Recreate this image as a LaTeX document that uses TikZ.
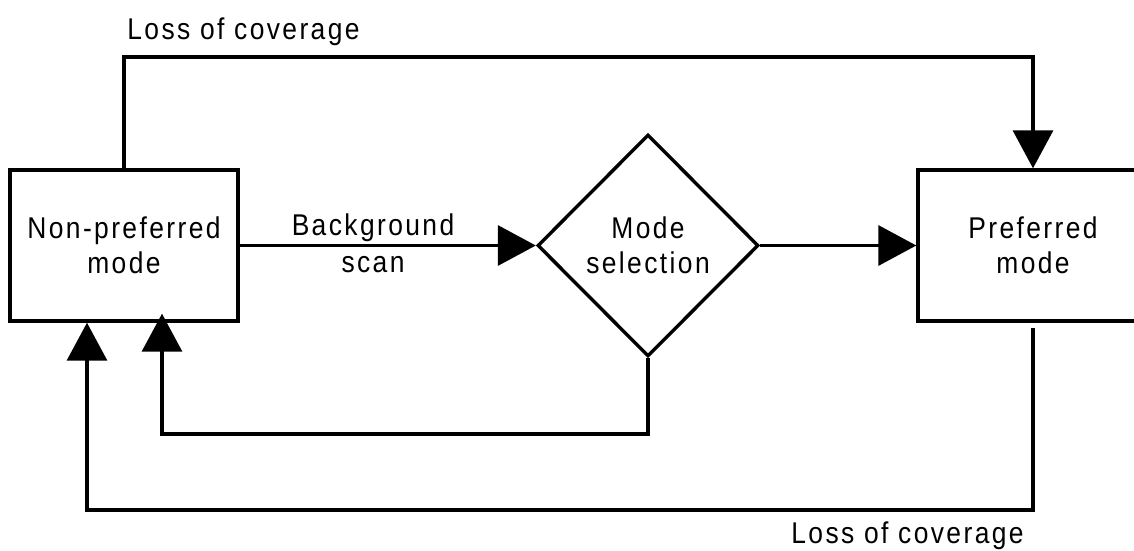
\documentclass[tikz,border=0pt]{standalone}
\usepackage{fontspec}
\setmainfont{Liberation Sans}[LetterSpace=8,FakeStretch=0.88]
\usetikzlibrary{arrows.meta,shapes.geometric}
\begin{document}
\begin{tikzpicture}[x=1pt,y=-1pt,
  every node/.style={font=\fontsize{30}{35}\selectfont, align=center, inner sep=0pt},
  blk/.style={draw, line width=3.4pt, rectangle},
  dec/.style={draw, line width=3.4pt, diamond, aspect=1},
  conn/.style={line width=3.4pt},
  arr/.style={conn, -{Triangle[length=38pt,width=40pt]}},
  lbl/.style={anchor=base}]
\useasboundingbox (0,0) rectangle (1134,550);
\node[blk, minimum width=228pt, minimum height=151pt] (np) at (124,245.5) {Non-preferred\\mode};
\node[dec, minimum width=221pt, minimum height=222pt] (ms) at (648,245.5) {Mode\\selection};
\node[blk, minimum width=230pt, minimum height=151pt] (pm) at (1033,245.5) {Preferred\\mode};
\coordinate (topy) at (0,57);
\coordinate (iy) at (0,434);
\coordinate (oy) at (0,510);
\node[lbl] (bg) at (373,235) {Background};
\node[lbl] (sc) at (373,272) {scan};
\node[lbl] (lc1) at (243.5,39) {Loss of coverage};
\node[lbl] (lc2) at (907.5,543) {Loss of coverage};
\draw[arr] (np.east) -- (ms.west);
\draw[arr] (ms.east) -- (pm.west);
\draw[arr] (np.north) -- (np.north |- topy) -| (pm.north);
\draw[arr] (ms.south) -- (ms.south |- iy) -| ([xshift=38pt,yshift=9pt]np.south);
\draw[arr, shorten <=5pt] (pm.south) -- (pm.south |- oy) -| ([xshift=-37pt]np.south);
\end{tikzpicture}
\end{document}
